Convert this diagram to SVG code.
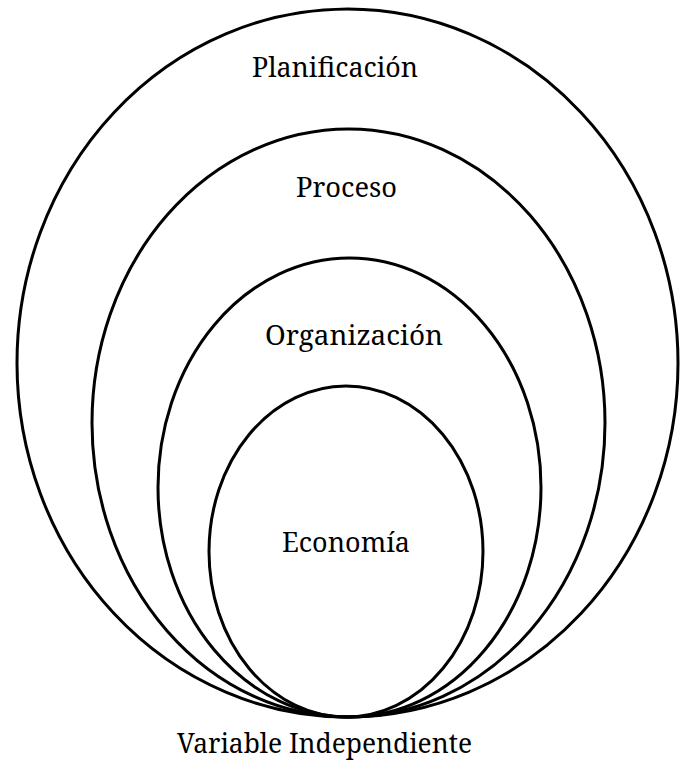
<svg xmlns="http://www.w3.org/2000/svg" width="689" height="767" viewBox="0 0 689 767">
<style>
.ring{fill:none;stroke:#000;stroke-width:3}
.lbl{font-family:"Noto Serif","Liberation Serif","DejaVu Serif",serif;font-size:28px;fill:#000;text-anchor:middle}
</style>
<rect width="689" height="767" fill="#fff"/>
<g id="planificacion">
<ellipse class="ring" cx="347.5" cy="363" rx="330.5" ry="354"/>
<text class="lbl" x="335" y="77" textLength="166" lengthAdjust="spacingAndGlyphs">Planificación</text>
</g>
<g id="proceso">
<ellipse class="ring" cx="348.5" cy="423" rx="256.5" ry="294"/>
<text class="lbl" x="346.5" y="197" textLength="101" lengthAdjust="spacingAndGlyphs">Proceso</text>
</g>
<g id="organizacion">
<ellipse class="ring" cx="349.5" cy="487.5" rx="191.5" ry="229.5"/>
<text class="lbl" x="354" y="345" textLength="178" lengthAdjust="spacingAndGlyphs">Organización</text>
</g>
<g id="economia">
<ellipse class="ring" cx="346" cy="551.5" rx="137" ry="165.5"/>
<text class="lbl" x="346" y="552" textLength="128" lengthAdjust="spacingAndGlyphs">Economía</text>
</g>
<g id="connectors"></g>
<text id="variable-independiente" class="lbl" x="324.5" y="753" textLength="295" lengthAdjust="spacingAndGlyphs">Variable Independiente</text>
</svg>
